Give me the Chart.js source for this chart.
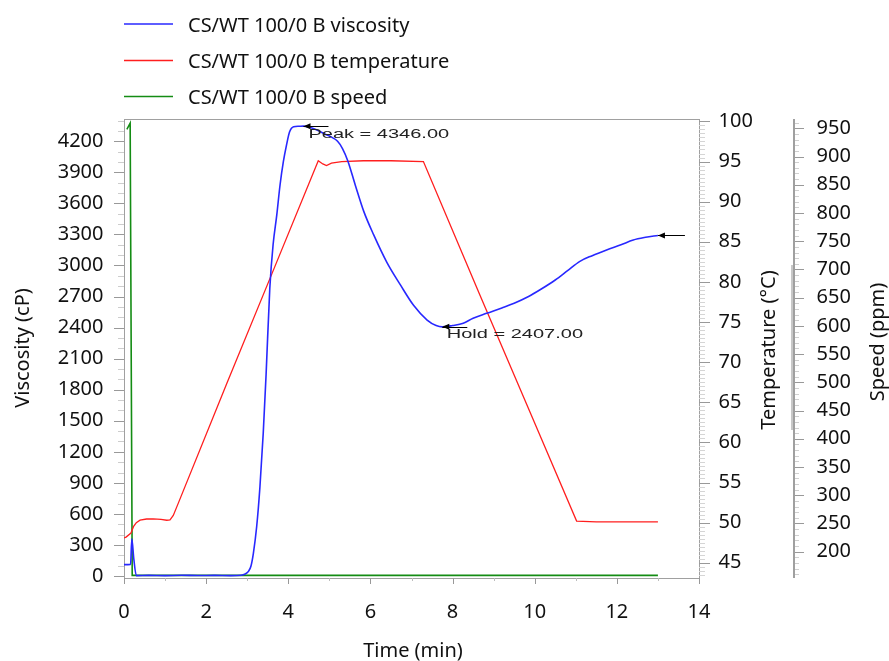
<!DOCTYPE html>
<html>
<head>
<meta charset="utf-8">
<script src="https://cdn.jsdelivr.net/npm/chart.js@4.4.1/dist/chart.umd.min.js"></script>
<style>
  html, body { margin: 0; padding: 0; background: #fff; }
  #wrap { width: 889px; height: 661px; }
</style>
</head>
<body>
<div id="wrap"><canvas id="chart-rva" width="889" height="661"></canvas></div>
<script>
// RVA run, sample CS/WT 100/0 B

var visTime = [0, 0.16, 0.19, 0.24, 0.3, 0.6, 1.0, 1.4, 1.8, 2.2, 2.6, 2.85, 2.95, 3.03, 3.09,
    3.15, 3.23, 3.31, 3.39, 3.46, 3.55, 3.63, 3.72, 3.8, 3.88, 3.96, 4.03, 4.13, 4.25, 4.37,
    4.5, 4.7, 4.9, 5.05, 5.2, 5.32, 5.45, 5.63, 5.84, 6.08, 6.4, 6.73, 7.05, 7.38, 7.6,
    7.75, 8.0, 8.26, 8.5, 8.83, 9.2, 9.5, 9.85, 10.15, 10.5, 10.8, 11.1, 11.4, 11.75, 12.1,
    12.4, 12.7, 13.0];
var visValues = [110, 112, 360, 160, 4, 6, 4, 7, 5, 6, 4, 8, 20, 45, 95,
    220, 476, 863, 1379, 1950, 2780, 3200, 3488, 3780, 4003, 4170, 4290, 4341, 4345, 4346,
    4338, 4309, 4268, 4240, 4200, 4130, 4010, 3778, 3520, 3295, 3030, 2812, 2615, 2473, 2420,
    2407, 2420, 2442, 2490, 2538, 2590, 2635, 2700, 2770, 2860, 2950, 3040, 3095, 3150, 3200,
    3246, 3272, 3290];

var tempTime = [0, 0.05, 0.17, 0.23, 0.3, 0.39, 0.55, 0.71, 0.9, 1.04, 1.12, 1.2, 1.32, 2.5,
    3.6, 4.73, 4.84, 4.93, 5.05, 5.3, 5.83, 6.5, 7.29, 8.67, 9.9, 11.02, 11.5, 12.0, 13.0];
var tempValues = [48.1, 48.2, 48.7, 49.5, 50.0, 50.3, 50.45, 50.46, 50.4, 50.3, 50.35, 50.9, 52.4, 67.3,
    81.0, 95.1, 94.7, 94.5, 94.8, 95.0, 95.1, 95.1, 95.0, 78.3, 63.6, 50.2, 50.1, 50.1, 50.1];

var speedTime = [0.07, 0.15, 0.2, 13.0];
var speedValues = [948, 959, 158, 158];

var seriesNames = ['CS/WT 100/0 B viscosity', 'CS/WT 100/0 B temperature', 'CS/WT 100/0 B speed'];
var seriesColors = ['rgb(40, 40, 255)', 'rgb(255, 30, 30)', 'rgb(20, 140, 20)'];

var timeTicks = [0, 2, 4, 6, 8, 10, 12, 14];
var visTicks = [0, 300, 600, 900, 1200, 1500, 1800, 2100, 2400, 2700, 3000, 3300, 3600, 3900, 4200];
var tempTicks = [45, 50, 55, 60, 65, 70, 75, 80, 85, 90, 95, 100];
var speedTicks = [200, 250, 300, 350, 400, 450, 500, 550, 600, 650, 700, 750, 800, 850, 900, 950];

var FONT = '"Noto Sans", "Open Sans", sans-serif';


function pairs(xs, ys) {
    return xs.map(function (x, i) { return { x: x, y: ys[i] }; });
}

function setTicks(list) {
    return function (scale) {
        scale.ticks = list.map(function (v) { return { value: v }; });
    };
}

function axisOpts(extra) {
    var base = {
        bounds: 'data',
        grid: { display: false, drawTicks: false },
        border: { display: false },
        ticks: {
            color: '#111',
            autoSkip: false,
            maxRotation: 0,
            font: { family: FONT, size: 20 },
            callback: function (v) { return String(v); }
        }
    };
    for (var k in extra) {
        if (k === 'ticks') {
            for (var t in extra.ticks) base.ticks[t] = extra.ticks[t];
        } else {
            base[k] = extra[k];
        }
    }
    return base;
}

// ticks along an axis, every `step` between the scale bounds
function tickRun(ctx, scale, step, horiz, base, len, color) {
    ctx.strokeStyle = color;
    ctx.lineWidth = 1;
    ctx.beginPath();
    for (var i = Math.ceil(scale.min / step); i * step <= scale.max + 1e-9; i++) {
        var p = Math.round(scale.getPixelForValue(i * step)) + 0.5;
        if (horiz) {
            ctx.moveTo(p, base);
            ctx.lineTo(p, base + len);
        } else {
            ctx.moveTo(base, p);
            ctx.lineTo(base + len, p);
        }
    }
    ctx.stroke();
}

function tickList(ctx, scale, list, horiz, base, len, color) {
    ctx.strokeStyle = color;
    ctx.lineWidth = 1;
    ctx.beginPath();
    list.forEach(function (v) {
        var p = Math.round(scale.getPixelForValue(v)) + 0.5;
        if (horiz) {
            ctx.moveTo(p, base);
            ctx.lineTo(p, base + len);
        } else {
            ctx.moveTo(base, p);
            ctx.lineTo(base + len, p);
        }
    });
    ctx.stroke();
}

function vTitle(ctx, text, x, y) {
    ctx.save();
    ctx.translate(x, y);
    ctx.rotate(-Math.PI / 2);
    ctx.textAlign = 'center';
    ctx.textBaseline = 'alphabetic';
    ctx.fillText(text, 0, 0);
    ctx.restore();
}

function markArrow(ctx, x, y, len) {
    ctx.strokeStyle = '#000';
    ctx.lineWidth = 1;
    ctx.beginPath();
    ctx.moveTo(x, Math.round(y) + 0.5);
    ctx.lineTo(x + len, Math.round(y) + 0.5);
    ctx.stroke();
    ctx.fillStyle = '#000';
    ctx.beginPath();
    ctx.moveTo(x, y);
    ctx.lineTo(x + 7, y - 3);
    ctx.lineTo(x + 7, y + 3);
    ctx.closePath();
    ctx.fill();
}

function wideText(ctx, text, x, y) {
    ctx.save();
    ctx.font = '12.5px "Liberation Sans", Arial, sans-serif';
    ctx.fillStyle = '#222';
    ctx.textAlign = 'left';
    ctx.textBaseline = 'alphabetic';
    ctx.translate(x, y);
    ctx.scale(1.6, 1);
    ctx.fillText(text, 0, 0);
    ctx.restore();
}

var rvaDecor = {
    id: 'rvaDecor',
    beforeDatasetsDraw: function (chart) {
        var ctx = chart.ctx, a = chart.chartArea;
        ctx.save();
        ctx.strokeStyle = '#a0a0a0';
        ctx.lineWidth = 1;
        ctx.strokeRect(a.left + 0.5, a.top + 0.5, a.right - a.left, a.bottom - a.top);
        ctx.restore();
    },
    afterDraw: function (chart) {
        var ctx = chart.ctx, a = chart.chartArea;
        var sx = chart.scales.x, sv = chart.scales.y, st = chart.scales.yTemp, ss = chart.scales.ySpeed;
        ctx.save();

        // tick marks
        tickRun(ctx, sv, 100, false, a.left, -6, '#cdcdcd');
        tickList(ctx, sv, visTicks, false, a.left, -10, '#999');
        tickRun(ctx, sx, 1, true, a.bottom, 3, '#bdbdbd');
        tickList(ctx, sx, timeTicks, true, a.bottom, 6, '#999');
        tickRun(ctx, st, 0.5, false, a.right, 6, '#d5d5d5');
        tickList(ctx, st, tempTicks, false, a.right, 11, '#999');

        var spX = ss.left;
        ctx.strokeStyle = '#a0a0a0';
        ctx.lineWidth = 2;
        ctx.beginPath();
        ctx.moveTo(spX + 1, a.top);
        ctx.lineTo(spX + 1, a.bottom);
        ctx.stroke();
        ctx.fillStyle = '#c8c8c8';
        ctx.fillRect(spX - 2, 265, 2, 165);
        tickRun(ctx, ss, 10, false, spX + 2, 4, '#d0d0d0');
        tickList(ctx, ss, speedTicks, false, spX + 2, 9, '#999');

        // axis titles
        ctx.fillStyle = '#111';
        ctx.font = '20px ' + FONT;
        vTitle(ctx, 'Viscosity (cP)', 29, 348);
        vTitle(ctx, 'Temperature (°C)', 775, 350);
        vTitle(ctx, 'Speed (ppm)', 884, 342);
        ctx.textAlign = 'center';
        ctx.textBaseline = 'alphabetic';
        ctx.fillText('Time (min)', 413, 657);

        // legend
        var rows = [24, 60.5, 96.5];
        seriesNames.forEach(function (name, i) {
            ctx.strokeStyle = seriesColors[i];
            ctx.lineWidth = 1.5;
            ctx.beginPath();
            ctx.moveTo(124, rows[i]);
            ctx.lineTo(173, rows[i]);
            ctx.stroke();
            ctx.fillStyle = '#111';
            ctx.textAlign = 'left';
            ctx.fillText(name, 188, rows[i] + 7.5);
        });

        // peak / hold / end markers
        var iPeak = 0;
        visValues.forEach(function (v, i) { if (v > visValues[iPeak]) iPeak = i; });
        var iHold = iPeak;
        for (var i = iPeak; i < visValues.length; i++) {
            if (visValues[i] < visValues[iHold]) iHold = i;
        }
        var iEnd = visValues.length - 1;

        var px = sx.getPixelForValue(visTime[iPeak]), py = sv.getPixelForValue(visValues[iPeak]);
        markArrow(ctx, px, py, 25);
        wideText(ctx, 'Peak = ' + visValues[iPeak].toFixed(2), px + 5, py + 11.5);

        px = sx.getPixelForValue(visTime[iHold]);
        py = sv.getPixelForValue(visValues[iHold]);
        markArrow(ctx, px, py, 25);
        wideText(ctx, 'Hold = ' + visValues[iHold].toFixed(2), px + 4.5, py + 11.5);

        px = sx.getPixelForValue(visTime[iEnd]);
        py = sv.getPixelForValue(visValues[iEnd]);
        markArrow(ctx, px, py, 27);

        ctx.restore();
    }
};


new Chart(
    document.getElementById('chart-rva'),
    {
        type: 'line',
        data: {
            datasets: [
                {
                    label: seriesNames[0],
                    data: pairs(visTime, visValues),
                    borderColor: seriesColors[0],
                    borderWidth: 1.6,
                    cubicInterpolationMode: 'monotone',
                    yAxisID: 'y'
                },
                {
                    label: seriesNames[1],
                    data: pairs(tempTime, tempValues),
                    borderColor: seriesColors[1],
                    borderWidth: 1.3,
                    tension: 0,
                    yAxisID: 'yTemp'
                },
                {
                    label: seriesNames[2],
                    data: pairs(speedTime, speedValues),
                    borderColor: seriesColors[2],
                    borderWidth: 1.6,
                    tension: 0,
                    yAxisID: 'ySpeed'
                }
            ]
        },
        options: {
            responsive: false,
            animation: false,
            devicePixelRatio: 1,
            parsing: true,
            elements: { point: { radius: 0 } },
            layout: { padding: { top: 119, left: 0, right: 0, bottom: 0 } },
            plugins: { legend: { display: false }, tooltip: { enabled: false } },
            scales: {
                x: axisOpts({
                    type: 'linear', position: 'bottom', min: 0, max: 14,
                    afterBuildTicks: setTicks(timeTicks),
                    afterFit: function (s) { s.height = 83; },
                    ticks: { padding: 22 }
                }),
                y: axisOpts({
                    type: 'linear', position: 'left', min: -19, max: 4415,
                    afterBuildTicks: setTicks(visTicks),
                    afterFit: function (s) { s.width = 124; },
                    ticks: { padding: 20.5 }
                }),
                yTemp: axisOpts({
                    type: 'linear', position: 'right', min: 43.1, max: 100.3,
                    afterBuildTicks: setTicks(tempTicks),
                    afterFit: function (s) { s.width = 94; },
                    ticks: { padding: 19.5 }
                }),
                ySpeed: axisOpts({
                    type: 'linear', position: 'right', min: 153.4, max: 966.5,
                    afterBuildTicks: setTicks(speedTicks),
                    afterFit: function (s) { s.width = 96; },
                    ticks: { padding: 23.5 }
                })
            }
        },
        plugins: [rvaDecor]
    }
);
</script>
</body>
</html>
